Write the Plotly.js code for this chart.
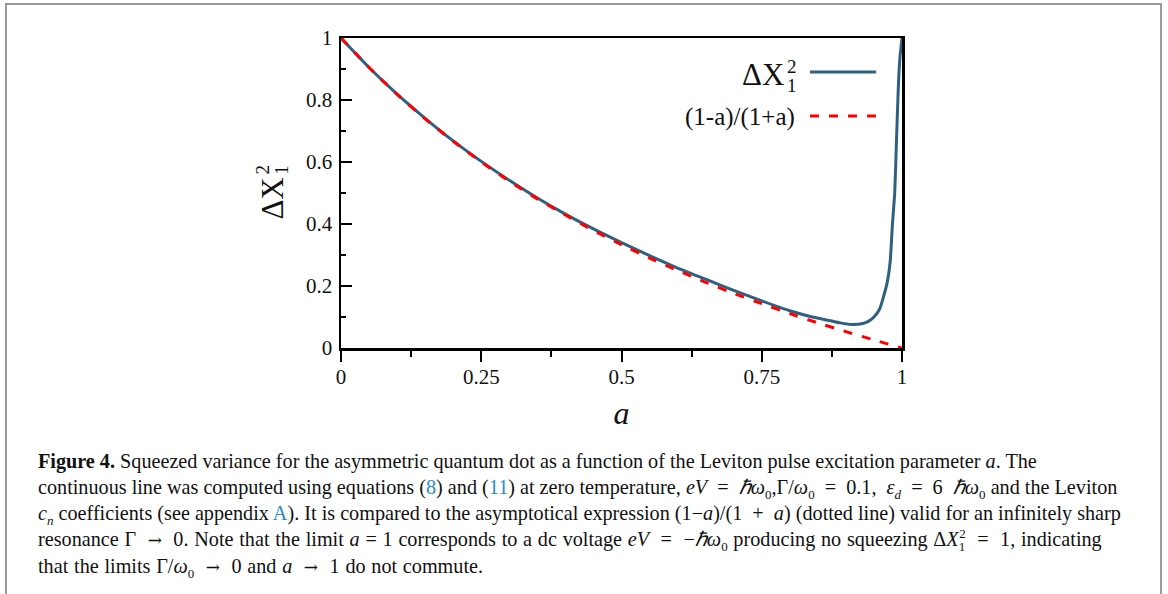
<!DOCTYPE html>
<html>
<head>
<meta charset="utf-8">
<script src="https://cdn.plot.ly/plotly-3.0.1.min.js"></script>
<style>
  html, body { margin:0; padding:0; background:#fff; width:1168px; height:594px; overflow:hidden; }
  #frame { position:absolute; left:5px; top:3px; width:1153px; height:700px; border:2px solid #9a9a9a; box-sizing:content-box; }
  #plot { position:absolute; left:0; top:0; width:1168px; height:594px; }
  #caption { position:absolute; left:38px; top:448px; font-family:"Liberation Serif", serif; font-size:20.2px; line-height:26px; color:#111; white-space:nowrap; }
  #caption .l { color:#2a8ac6; }
  #caption .ar { font-family:"DejaVu Serif", serif; font-size:17px; }
  #caption .w { word-spacing:0.7px; }
  #caption sub, #caption sup { font-size:13px; line-height:0; }
</style>
</head>
<body>
<div id="frame"></div>
<div id="plot"></div>
<div id="caption">
<b>Figure&nbsp;4.</b> Squeezed variance for the asymmetric quantum dot as a function of the Leviton pulse excitation parameter <i>a</i>. The<br>
continuous line was computed using equations (<span class="l">8</span>) and (<span class="l">11</span>) at zero temperature, <i>eV</i> &nbsp;= &nbsp;<i>ℏω</i><sub>0</sub>,Γ/<i>ω</i><sub>0</sub> &nbsp;= &nbsp;0.1, &nbsp;<i>ε<sub>d</sub></i> &nbsp;= &nbsp;6 &nbsp;<i>ℏω</i><sub>0</sub> and the Leviton<br>
<i>c<sub>n</sub></i> coefficients (see appendix <span class="l">A</span>). It is compared to the asymptotical expression (1−<i>a</i>)/(1 &nbsp;+ &nbsp;<i>a</i>) (dotted line) valid for an infinitely sharp<br>
<span class="w">resonance Γ &nbsp;<span class="ar">→</span> &nbsp;0. Note that the limit <i>a</i>&nbsp;=&nbsp;1 corresponds to a dc voltage <i>eV</i> &nbsp;= &nbsp;−<i>ℏω</i><sub>0</sub> producing no squeezing Δ<i>X</i><sub>1</sub><sup style="margin-left:-6px">2</sup> &nbsp;= &nbsp;1, indicating</span><br>
<span class="w">that the limits Γ/<i>ω</i><sub>0</sub> &nbsp;<span class="ar">→</span> &nbsp;0 and <i>a</i> &nbsp;<span class="ar">→</span> &nbsp;1 do not commute.</span>
</div>
<script>
// Squeezed variance (continuous line)
const aSolid = [0, 0.05, 0.1, 0.15, 0.2, 0.25, 0.3, 0.35, 0.4, 0.45, 0.5, 0.55, 0.6, 0.65, 0.7, 0.75, 0.8, 0.84, 0.87, 0.89, 0.91, 0.93, 0.94, 0.95, 0.96, 0.967, 0.974, 0.979, 0.983, 0.987, 0.99, 0.993, 0.996, 1.0];
const varSolid = [1.0, 0.905, 0.819, 0.741, 0.668, 0.602, 0.541, 0.484, 0.432, 0.384, 0.34, 0.298, 0.258, 0.222, 0.186, 0.152, 0.12, 0.1, 0.089, 0.081, 0.076, 0.079, 0.086, 0.1, 0.125, 0.165, 0.215, 0.28, 0.4, 0.5, 0.66, 0.82, 0.93, 1.0];
// Asymptotic expression (1-a)/(1+a) (dashed line)
const aDash = [0, 0.05, 0.1, 0.15, 0.2, 0.25, 0.3, 0.35, 0.4, 0.45, 0.5, 0.55, 0.6, 0.65, 0.7, 0.75, 0.8, 0.85, 0.9, 0.95, 1.0];
const varDash = [1.0, 0.905, 0.818, 0.739, 0.667, 0.6, 0.538, 0.481, 0.429, 0.379, 0.333, 0.29, 0.25, 0.212, 0.176, 0.143, 0.111, 0.081, 0.053, 0.026, 0.0];
// ticks
const xTickVals = [0, 0.25, 0.5, 0.75, 1];
const xTickText = ["0", "0.25", "0.5", "0.75", "1"];
const yTickVals = [0, 0.2, 0.4, 0.6, 0.8, 1];
const yTickText = ["0", "0.2", "0.4", "0.6", "0.8", "1"];
const seriesNames = ["ΔX", "(1-a)/(1+a)"];
const varSub = "1", varSup = "2";

const blue = "#2f6080";
const red = "#ff0000";
const font = "Liberation Serif";
const ink = "#111";

const traces = [
  { x: aSolid, y: varSolid, mode: "lines", line: { color: blue, width: 3, shape: "spline", smoothing: 0.5 }, showlegend: false },
  { x: aDash, y: varDash, mode: "lines", line: { color: red, width: 3, dash: "9px,10px", shape: "spline", smoothing: 0.5 }, showlegend: false }
];

const tf = { family: font, size: 21, color: ink };

const layout = {
  width: 1168, height: 594,
  margin: { l: 341, r: 266, t: 38, b: 246 },
  paper_bgcolor: "rgba(0,0,0,0)",
  plot_bgcolor: "rgba(0,0,0,0)",
  font: { family: font, size: 21, color: ink },
  showlegend: false,
  xaxis: {
    range: [0, 1], tickmode: "array", tickvals: xTickVals, ticktext: xTickText, tickfont: tf,
    ticks: "outside", ticklen: 11, tickwidth: 2, tickcolor: "#000",
    showline: true, linecolor: "#000", linewidth: 2.5, mirror: true,
    showgrid: false, zeroline: false, ticklabelstandoff: -3,
    minor: { ticks: "outside", ticklen: 6, tickwidth: 2, tickcolor: "#000", dtick: 0.125, tick0: 0, showgrid: false },
    title: { text: "<i>a</i>", font: { family: font, size: 32, color: ink }, standoff: 14 }
  },
  yaxis: {
    range: [0, 1], tickmode: "array", tickvals: yTickVals, ticktext: yTickText, tickfont: tf,
    ticks: "inside", ticklen: 11, tickwidth: 2, tickcolor: "#000",
    showline: true, linecolor: "#000", linewidth: 2.5, mirror: true,
    showgrid: false, zeroline: false, ticklabelstandoff: 2,
    minor: { ticks: "inside", ticklen: 5, tickwidth: 2, tickcolor: "#000", dtick: 0.1, tick0: 0, showgrid: false }
  },
  annotations: [
    // y-axis title ΔX with stacked sub/superscript
    { xref: "paper", yref: "paper", x: -0.1212, y: 0.482, xanchor: "center", yanchor: "middle", textangle: -90, showarrow: false,
      text: seriesNames[0], font: { family: font, size: 31, color: ink } },
    { xref: "paper", yref: "paper", x: -0.1395, y: 0.575, xanchor: "center", yanchor: "middle", textangle: -90, showarrow: false,
      text: varSup, font: { family: font, size: 19, color: ink } },
    { xref: "paper", yref: "paper", x: -0.1050, y: 0.575, xanchor: "center", yanchor: "middle", textangle: -90, showarrow: false,
      text: varSub, font: { family: font, size: 19, color: ink } },
    // legend entries
    { xref: "paper", yref: "paper", x: 0.7932, y: 0.882, xanchor: "right", yanchor: "middle", showarrow: false,
      text: seriesNames[0], font: { family: font, size: 31, color: ink } },
    { xref: "paper", yref: "paper", x: 0.8039, y: 0.908, xanchor: "center", yanchor: "middle", showarrow: false,
      text: varSup, font: { family: font, size: 19, color: ink } },
    { xref: "paper", yref: "paper", x: 0.8039, y: 0.846, xanchor: "center", yanchor: "middle", showarrow: false,
      text: varSub, font: { family: font, size: 19, color: ink } },
    { xref: "paper", yref: "paper", x: 0.813, y: 0.745, xanchor: "right", yanchor: "middle", showarrow: false,
      text: seriesNames[1], font: { family: font, size: 25, color: ink } }
  ],
  shapes: [
    { type: "line", xref: "paper", yref: "paper", x0: 0.836, x1: 0.954, y0: 0.890, y1: 0.890, line: { color: blue, width: 3 } },
    { type: "line", xref: "paper", yref: "paper", x0: 0.836, x1: 0.954, y0: 0.748, y1: 0.748, line: { color: red, width: 3, dash: "9px,10px" } }
  ]
};

Plotly.newPlot("plot", traces, layout, { displayModeBar: false, staticPlot: true });
</script>
</body>
</html>
